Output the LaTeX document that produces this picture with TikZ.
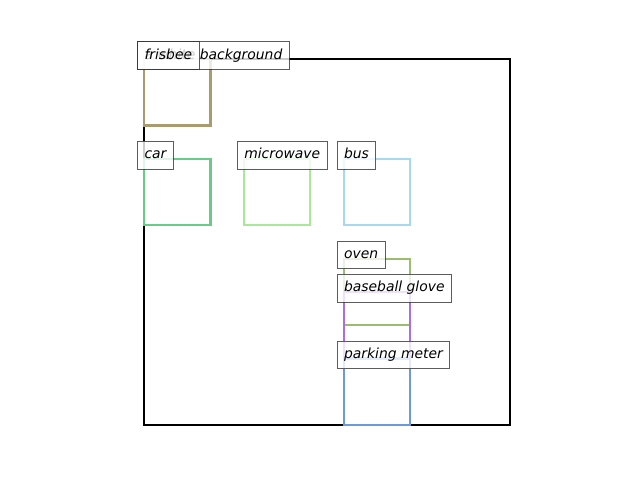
\documentclass[tikz,border=0pt]{standalone}
\usepackage{fontspec}
\setmainfont{DejaVu Sans}
\begin{document}
\begin{tikzpicture}[x=0.72pt,y=-0.72pt,
  objbox/.style={draw=#1, line width=1.5pt, rectangle, inner sep=0pt, outer sep=0pt,
    minimum width=47.9pt, minimum height=47.9pt, anchor=north west},
  lbl/.style={draw=black!80, draw opacity=0.8, fill=white, fill opacity=0.8, text opacity=1,
    line width=0.72pt, font=\fontsize{10pt}{12pt}\selectfont\itshape, text height=7.6pt, text depth=2.4pt,
    inner xsep=5pt, inner ysep=5pt, anchor=base west, xshift=-5pt}]
\useasboundingbox (0,0) rectangle (640,480);
\definecolor{cfris}{HTML}{A99A70}
\definecolor{ccar}{HTML}{66CC88}
\definecolor{cmicro}{HTML}{AAE899}
\definecolor{cbus}{HTML}{A6D8F0}
\definecolor{coven}{HTML}{9DBD6E}
\definecolor{cglove}{HTML}{A86EE8}
\definecolor{cpark}{HTML}{6B9AD8}
\node[objbox=black, minimum width=263.5pt, minimum height=263.5pt] (bg) at (144,59) {};
\node[objbox=cfris] (fris) at (144,59) {};
\node[objbox=ccar] (car) at (144,158.8) {};
\node[objbox=cmicro] (micro) at (243.8,158.8) {};
\node[objbox=cbus] (bus) at (343.6,158.8) {};
\node[objbox=coven] (oven) at (343.6,258.6) {};
\node[objbox=cglove] (glove) at (343.6,291.9) {};
\node[objbox=cpark] (park) at (343.6,358.5) {};
\node[lbl] (lbg) at (bg.north west) {a white background};
\node[lbl] (lfris) at (fris.north west) {frisbee};
\node[lbl] (lcar) at (car.north west) {car};
\node[lbl] (lmicro) at (micro.north west) {microwave};
\node[lbl] (lbus) at (bus.north west) {bus};
\node[lbl] (loven) at (oven.north west) {oven};
\node[lbl] (lglove) at (glove.north west) {baseball glove};
\node[lbl] (lpark) at (park.north west) {parking meter};
\end{tikzpicture}
\end{document}
